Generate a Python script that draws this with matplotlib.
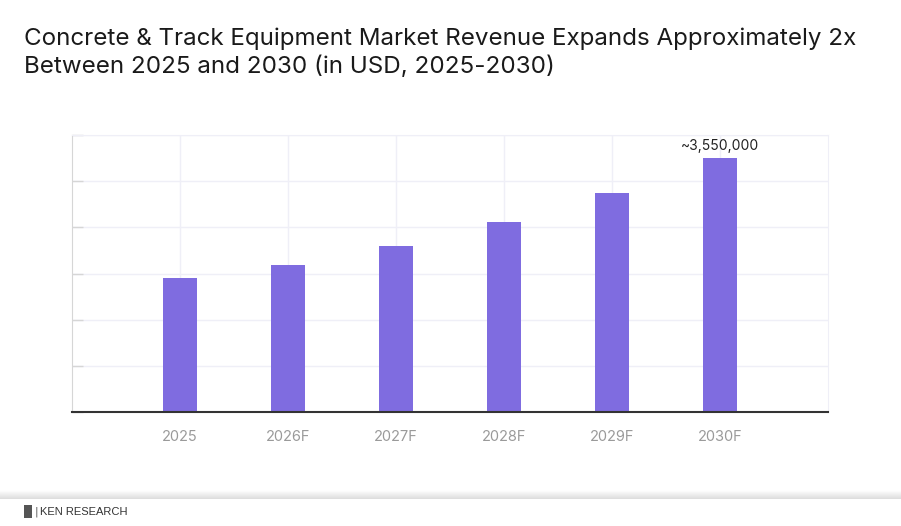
import numpy as np
import matplotlib.pyplot as plt
from matplotlib.patches import Rectangle

# market revenue, USD
years = ['2025', '2026F', '2027F', '2028F', '2029F', '2030F']
revenue = [1880000, 2060000, 2325000, 2655000, 3070000, 3550000]
top_label = '~3,550,000'

title = ('Concrete & Track Equipment Market Revenue Expands Approximately 2x\n'
         'Between 2025 and 2030 (in USD, 2025-2030)')

W, H = 901, 526
fig = plt.figure(figsize=(W / 100, H / 100), dpi=100)
fig.patch.set_facecolor('white')

ax = fig.add_axes([72 / W, (H - 412.3) / H, 756 / W, 277.3 / H])
x = np.arange(len(years))
ax.bar(x, revenue, width=0.31, color='#7f6ce0', zorder=3)

ymax = 3876000
ax.set_ylim(0, ymax)
ax.set_xlim(-1, len(years))
ax.set_yticks(np.linspace(0, ymax, 7))
ax.set_yticklabels([])
ax.set_xticks(x)
ax.set_xticklabels(years, color='#9a9a9a', fontsize=10.5, family='Inter')
ax.tick_params(axis='x', length=0, pad=13)
ax.tick_params(axis='y', direction='in', length=8, color='#d6d6d6', width=1)
ax.grid(True, color='#efeff7', linewidth=1, zorder=0)

for side in ['top', 'right']:
    ax.spines[side].set_color('#efeff7')
ax.spines['left'].set_color('#d6d6d6')
ax.spines['bottom'].set_color('#333333')
ax.spines['bottom'].set_linewidth(1.5)
ax.spines['bottom'].set_zorder(4)

ax.annotate(top_label, (x[-1], revenue[-1]), xytext=(0, 4), textcoords='offset points',
            ha='center', va='bottom', fontsize=10, color='#222222', family='Inter')

fig.text(24 / W, 1 - 28 / H, title, ha='left', va='top', fontsize=17.4,
         color='#1a1a1a', family='Inter', fontweight='normal', linespacing=1.3)

# footer shadow and logo
sh = fig.add_axes([0, (H - 499) / H, 1, 9 / H])
sh.imshow(np.linspace(1, 0.87, 10).reshape(-1, 1), aspect='auto', cmap='gray',
          vmin=0, vmax=1, extent=[0, 1, 0, 1])
sh.axis('off')
fig.add_artist(Rectangle((24 / W, (H - 518) / H), 8 / W, 13 / H, transform=fig.transFigure,
                         facecolor='#555555', edgecolor='none'))
fig.text(35 / W, (H - 512) / H, '|', ha='left', va='center', fontsize=8, color='#555555')
fig.text(40 / W, (H - 512) / H, 'KEN RESEARCH', ha='left', va='center', fontsize=8,
         color='#333333', family='Liberation Sans')

fig.savefig('out.png', dpi=100, facecolor='white')
